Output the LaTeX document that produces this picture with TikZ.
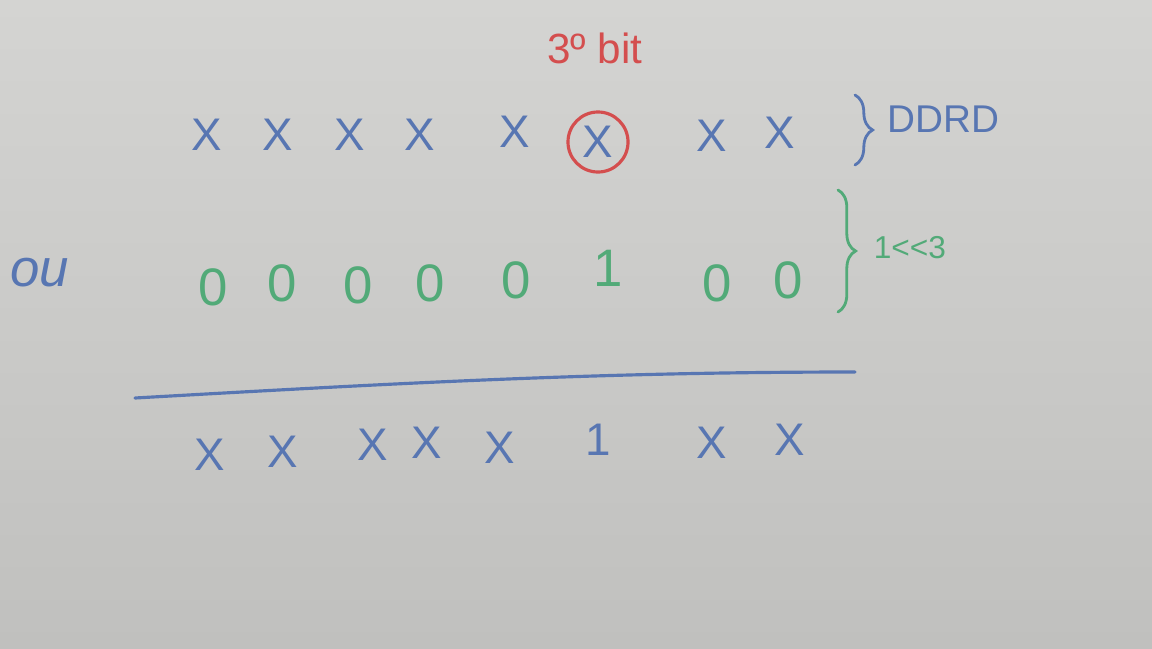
\documentclass[tikz,border=0pt]{standalone}
\usepackage{fontspec}
\setmainfont{Liberation Sans}
\usetikzlibrary{positioning, decorations.pathreplacing}

\definecolor{board}{RGB}{212,212,210}
\definecolor{boardlow}{RGB}{192,192,190}
\definecolor{penblue}{RGB}{88,118,178}
\definecolor{pengreen}{RGB}{82,170,120}
\definecolor{penred}{RGB}{212,78,78}

\tikzset{
  bitx/.style={text=penblue, font=\fontsize{13}{15}\selectfont, inner sep=1pt},
  bitmask/.style={text=pengreen, font=\fontsize{15}{17}\selectfont, inner sep=1pt},
  note/.style={font=\fontsize{12}{14}\selectfont, inner sep=1pt},
  bracemark/.style={decorate, decoration={brace, amplitude=5pt}, line width=0.8pt},
}

\begin{document}
\begin{tikzpicture}[x=0.01cm, y=-0.01cm, line cap=round]
\shade[top color=board, bottom color=boardlow] (0,0) rectangle (1152,648);
\useasboundingbox (0,0) rectangle (1152,648);
%
% register DDRD
\foreach \i/\x/\y in {1/207/135, 2/278/135, 3/350/135, 4/420/135, 5/515/132,
                      6/598/142, 7/712/136, 8/780/133}
  \node[bitx] (d\i) at (\x,\y) {X};
\node[draw=penred, circle, line width=0.9pt, minimum size=0.6cm] (pick) at (d6) {};
\node[note, text=penred] (third) at (595,48) {3º bit};
\draw[bracemark, penblue] (855,95) -- coordinate (ddrd brace) (855,165);
\node[note, text=penblue, font=\fontsize{11}{13}\selectfont, right=8pt of ddrd brace, yshift=3pt] (ddrd) {DDRD};
%
% mask 1<<3
\node[note, text=penblue, font=\fontsize{15}{17}\selectfont\itshape] (ou) at (40,273) {ou};
\foreach \i/\x/\y/\b in {1/213/287/0, 2/282/283/0, 3/358/285/0, 4/430/283/0,
                         5/516/280/0, 6/608/268/1, 7/717/283/0, 8/788/280/0}
  \node[bitmask] (m\i) at (\x,\y) {\b};
\draw[bracemark, pengreen] (838,190) -- coordinate (mask brace) (838,312);
\node[note, text=pengreen, font=\fontsize{9}{11}\selectfont, right=9pt of mask brace, yshift=1pt] (shift) {1<\kern0pt<3};
%
% result
\coordinate (rule left) at (135,398);
\coordinate (rule right) at (855,372);
\draw[penblue, line width=0.9pt] (rule left) .. controls (400,383) and (600,372) .. (rule right);
\foreach \i/\x/\y/\b in {1/210/455/X, 2/283/452/X, 3/373/445/X, 4/427/443/X,
                         5/500/448/X, 6/598/440/1, 7/712/443/X, 8/790/440/X}
  \node[bitx] (r\i) at (\x,\y) {\b};
\end{tikzpicture}
\end{document}
